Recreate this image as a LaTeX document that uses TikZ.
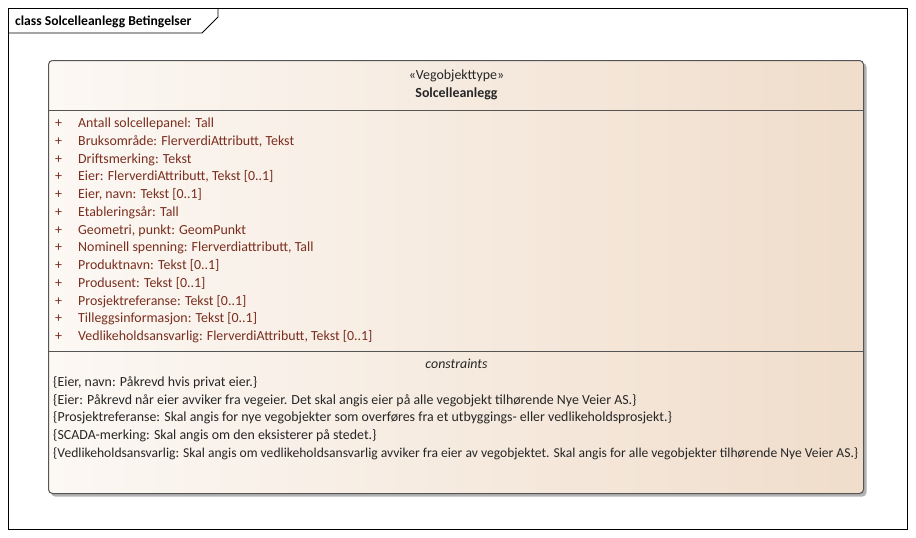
\documentclass[tikz,border=0pt]{standalone}
\usepackage{fontspec}
\setmainfont{Carlito}
\definecolor{attrred}{HTML}{7A2E1E}
\definecolor{boxline}{HTML}{555555}
\definecolor{fillL}{HTML}{FCF8F4}
\definecolor{fillR}{HTML}{F0DDCB}
\newcommand{\fs}{\fontsize{13.9}{16}\selectfont}
\tikzset{
  attr/.style={anchor=base west, inner sep=0pt, text=attrred, font=\fs},
  plus/.style={anchor=base west, inner sep=0pt, text=attrred, font=\fs},
  cons/.style={anchor=base west, inner sep=0pt, text=black!85, font=\fs},
  hdr/.style={anchor=base, inner sep=0pt, text=black!85, font=\fs},
}
\begin{document}
\begin{tikzpicture}[x=1pt,y=-1pt]
\useasboundingbox (0,0) rectangle (916,538);
% frame
\draw[black, line width=0.8pt] (8.5,8.5) rectangle (907.5,529.5);
\draw[black, line width=0.8pt] (8.5,33) -- (202,33) -- (218,17) -- (218,8.5);
\node[anchor=base west, inner sep=0pt, font=\bfseries\fontsize{13.6}{15}\selectfont] (title) at (15,25) {class Solcelleanlegg Betingelser};
% shadow
\fill[black!30, rounded corners=4pt] (51,63) rectangle (866.5,496.5);
% box
\shade[left color=fillL, right color=fillR, rounded corners=4pt] (48.5,60.5) rectangle (863.5,493.5);
\draw[boxline, line width=1pt, rounded corners=4pt] (48.5,60.5) rectangle (863.5,493.5);
\draw[boxline, line width=1pt] (48.5,110.5) -- (863.5,110.5);
\draw[boxline, line width=1pt] (48.5,351.5) -- (863.5,351.5);
% header
\node[hdr] (stereo) at (456.5,79.5) {«Vegobjekttype»};
\node[hdr, font=\bfseries\fs] (name) at (456.5,97.5) {Solcelleanlegg};
% attributes
\foreach \t [count=\i] in {
  Antall solcellepanel: Tall,
  Bruksområde: FlerverdiAttributt{,} Tekst,
  Driftsmerking: Tekst,
  Eier: FlerverdiAttributt{,} Tekst [0..1],
  Eier{,} navn: Tekst [0..1],
  Etableringsår: Tall,
  Geometri{,} punkt: GeomPunkt,
  Nominell spenning: Flerverdiattributt{,} Tall,
  Produktnavn: Tekst [0..1],
  Produsent: Tekst [0..1],
  Prosjektreferanse: Tekst [0..1],
  Tilleggsinformasjon: Tekst [0..1],
  Vedlikeholdsansvarlig: FlerverdiAttributt{,} Tekst [0..1]}
{
  \node[plus] (p\i) at (55,{127.5+17.75*(\i-1)}) {+};
  \node[attr] (a\i) at (78,{127.5+17.75*(\i-1)}) {\t};
}
% constraints
\node[hdr, font=\itshape\fs] (ctitle) at (456.5,368.5) {constraints};
\node[cons] (c1) at (53,386.5) {\{Eier, navn: Påkrevd hvis privat eier.\}};
\node[cons] (c2) at (53,404) {\{Eier: Påkrevd når eier avviker fra vegeier. Det skal angis eier på alle vegobjekt tilhørende Nye Veier AS.\}};
\node[cons] (c3) at (53,421.5) {\{Prosjektreferanse: Skal angis for nye vegobjekter som overføres fra et utbyggings- eller vedlikeholdsprosjekt.\}};
\node[cons] (c4) at (53,439.5) {\{SCADA-merking: Skal angis om den eksisterer på stedet.\}};
\node[cons] (c5) at (53,457) {\resizebox{805pt}{!}{\{Vedlikeholdsansvarlig: Skal angis om vedlikeholdsansvarlig avviker fra eier av vegobjektet. Skal angis for alle vegobjekter tilhørende Nye Veier AS.\}}};
\end{tikzpicture}
\end{document}
